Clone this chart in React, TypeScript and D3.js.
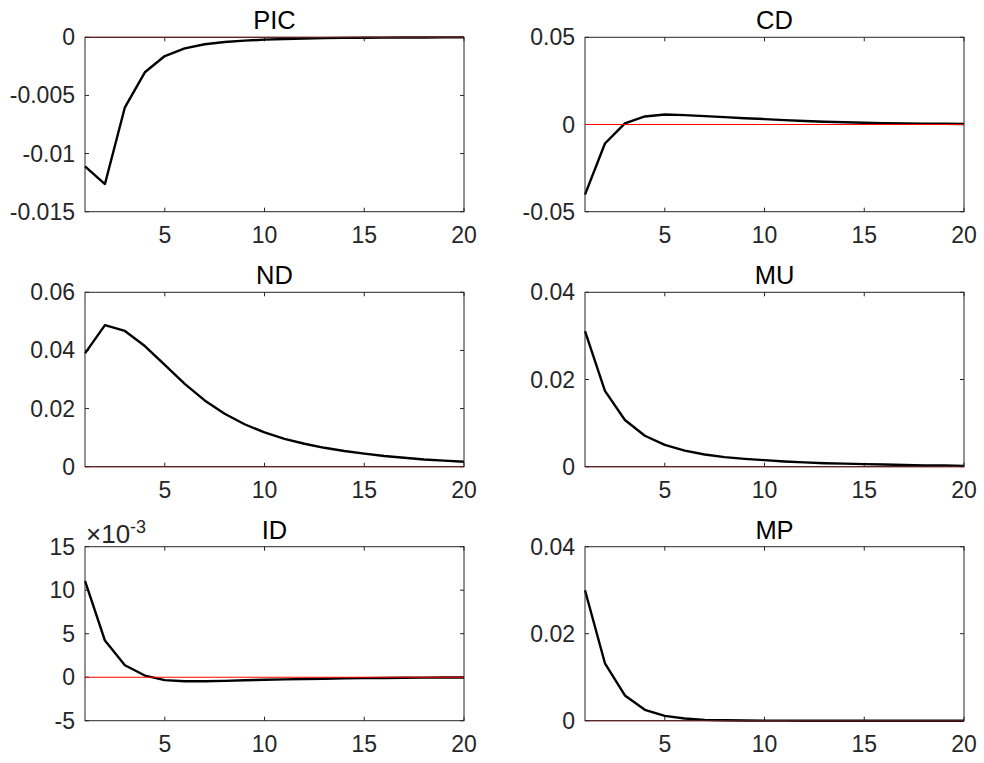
import React from "react";
import * as d3 from "d3";

const periods = [1, 2, 3, 4, 5, 6, 7, 8, 9, 10, 11, 12, 13, 14, 15, 16, 17, 18, 19, 20];

const picValues = [-0.0111, -0.01262, -0.00602, -0.00301, -0.00161, -0.00095, -0.0006, -0.0004, -0.00029, -0.0002, -0.00014, -0.0001, -0.00007, -0.00005, -0.00004, -0.00003, -0.00002, -0.000015, -0.00001, -0.000008];
const cdValues = [-0.0402, -0.0109, 0.0006, 0.0046, 0.0057, 0.0054, 0.0048, 0.0042, 0.0036, 0.0031, 0.0025, 0.002, 0.0016, 0.0013, 0.001, 0.0008, 0.0006, 0.0005, 0.0004, 0.0003];
const ndValues = [0.039, 0.0487, 0.0467, 0.0415, 0.035, 0.0285, 0.0228, 0.0182, 0.0146, 0.0118, 0.0096, 0.0079, 0.0065, 0.0054, 0.0045, 0.0037, 0.0031, 0.0025, 0.0021, 0.0017];
const muValues = [0.0311, 0.0174, 0.0107, 0.0071, 0.005, 0.0037, 0.0028, 0.0022, 0.0018, 0.0015, 0.0012, 0.001, 0.0008, 0.0007, 0.0006, 0.0005, 0.0004, 0.0003, 0.0003, 0.0002];
const idValues = [0.01107, 0.00421, 0.00138, 0.00019, -0.00034, -0.00046, -0.00046, -0.00042, -0.00035, -0.0003, -0.00025, -0.0002, -0.00017, -0.00014, -0.00011, -0.00009, -0.00007, -0.00005, -0.00004, -0.00003];
const mpValues = [0.03, 0.0132, 0.0058, 0.0025, 0.0011, 0.0005, 0.0002, 0.0001, 0.00005, 0.00002, 0.00001, 0, 0, 0, 0, 0, 0, 0, 0, 0];
const zeroLine = [0, 0, 0, 0, 0, 0, 0, 0, 0, 0, 0, 0, 0, 0, 0, 0, 0, 0, 0, 0];

const xTicks = [5, 10, 15, 20];
const picTicks = [-0.015, -0.01, -0.005, 0];
const cdTicks = [-0.05, 0, 0.05];
const ndTicks = [0, 0.02, 0.04, 0.06];
const muTicks = [0, 0.02, 0.04];
const idTicks = [-0.005, 0, 0.005, 0.01, 0.015];
const mpTicks = [0, 0.02, 0.04];

const titles = ["PIC", "CD", "ND", "MU", "ID", "MP"];

type Panel = {
  title: string;
  values: number[];
  domain: [number, number];
  ticks: number[];
  fmt: (v: number) => string;
  exponent?: string;
};

const plain = (v: number) => String(+v.toPrecision(6));

const panels: Panel[] = [
  { title: titles[0], values: picValues, domain: [-0.015, 0], ticks: picTicks, fmt: plain },
  { title: titles[1], values: cdValues, domain: [-0.05, 0.05], ticks: cdTicks, fmt: plain },
  { title: titles[2], values: ndValues, domain: [0, 0.06], ticks: ndTicks, fmt: plain },
  { title: titles[3], values: muValues, domain: [0, 0.04], ticks: muTicks, fmt: plain },
  { title: titles[4], values: idValues, domain: [-0.005, 0.015], ticks: idTicks, fmt: (v) => String(Math.round(v * 1000)), exponent: "-3" },
  { title: titles[5], values: mpValues, domain: [0, 0.04], ticks: mpTicks, fmt: plain },
];

const W = 984;
const H = 763;
const colX = [[85, 464], [585, 964]];
const rowY = [[37.3, 211.7], [292.3, 466.7], [546.7, 720.7]];
const AX = "#262626";
const FONT = "'Liberation Sans', Arial, Helvetica, sans-serif";
const TICK = 4;

function PanelView({ p, idx }: { p: Panel; idx: number }) {
  const col = idx % 2;
  const row = Math.floor(idx / 2);
  const [x0, x1] = colX[col];
  const [y0, y1] = rowY[row];
  const x = d3.scaleLinear().domain([1, 20]).range([x0, x1]);
  const y = d3.scaleLinear().domain(p.domain).range([y1, y0]);
  const line = d3
    .line<number>()
    .x((_, i) => x(periods[i]))
    .y((d) => y(d));
  const clipId = `clip${idx}`;
  return (
    <g>
      <defs>
        <clipPath id={clipId}>
          <rect x={x0 - 1.5} y={y0 - 1.5} width={x1 - x0 + 3} height={y1 - y0 + 3} />
        </clipPath>
      </defs>
      <rect x={x0} y={y0} width={x1 - x0} height={y1 - y0} fill="#fff" />
      {xTicks.map((t) => (
        <g key={"xt" + t}>
          <line x1={x(t)} x2={x(t)} y1={y1} y2={y1 - TICK} stroke={AX} strokeWidth={1} />
          <line x1={x(t)} x2={x(t)} y1={y0} y2={y0 + TICK} stroke={AX} strokeWidth={1} />
          <text x={x(t)} y={y1 + 23} textAnchor="middle" dominantBaseline="central" fontFamily={FONT} fontSize={23} fill={AX}>
            {t}
          </text>
        </g>
      ))}
      {p.ticks.map((t) => (
        <g key={"yt" + t}>
          <line x1={x0} x2={x0 + TICK} y1={y(t)} y2={y(t)} stroke={AX} strokeWidth={1} />
          <line x1={x1} x2={x1 - TICK} y1={y(t)} y2={y(t)} stroke={AX} strokeWidth={1} />
          <text x={x0 - 10} y={y(t)} textAnchor="end" dominantBaseline="central" fontFamily={FONT} fontSize={23} fill={AX}>
            {p.fmt(t)}
          </text>
        </g>
      ))}
      <g clipPath={`url(#${clipId})`}>
        <path d={line(p.values) || ""} fill="none" stroke="#000" strokeWidth={2.4} strokeLinejoin="round" />
        <path d={line(zeroLine) || ""} fill="none" stroke="#ff0000" strokeWidth={1.1} />
      </g>
      <rect x={x0} y={y0} width={x1 - x0} height={y1 - y0} fill="none" stroke={AX} strokeWidth={1} />
      <text x={(x0 + x1) / 2} y={y0 - 8} textAnchor="middle" fontFamily={FONT} fontSize={25.5} fill="#000">
        {p.title}
      </text>
      {p.exponent && (
        <text x={x0 + 1} y={y0 - 4} fontFamily={FONT} fontSize={26} fill={AX}>
          {"×10"}
          <tspan fontSize={18} dy={-10}>
            {p.exponent}
          </tspan>
        </text>
      )}
    </g>
  );
}

export default function App() {
  return (
    <svg
      width={W}
      height={H}
      viewBox={`0 0 ${W} ${H}`}
      style={{ position: "absolute", left: 0, top: 0, background: "#fff" }}
    >
      <rect x={0} y={0} width={W} height={H} fill="#fff" />
      {panels.map((p, i) => (
        <PanelView key={p.title} p={p} idx={i} />
      ))}
    </svg>
  );
}
